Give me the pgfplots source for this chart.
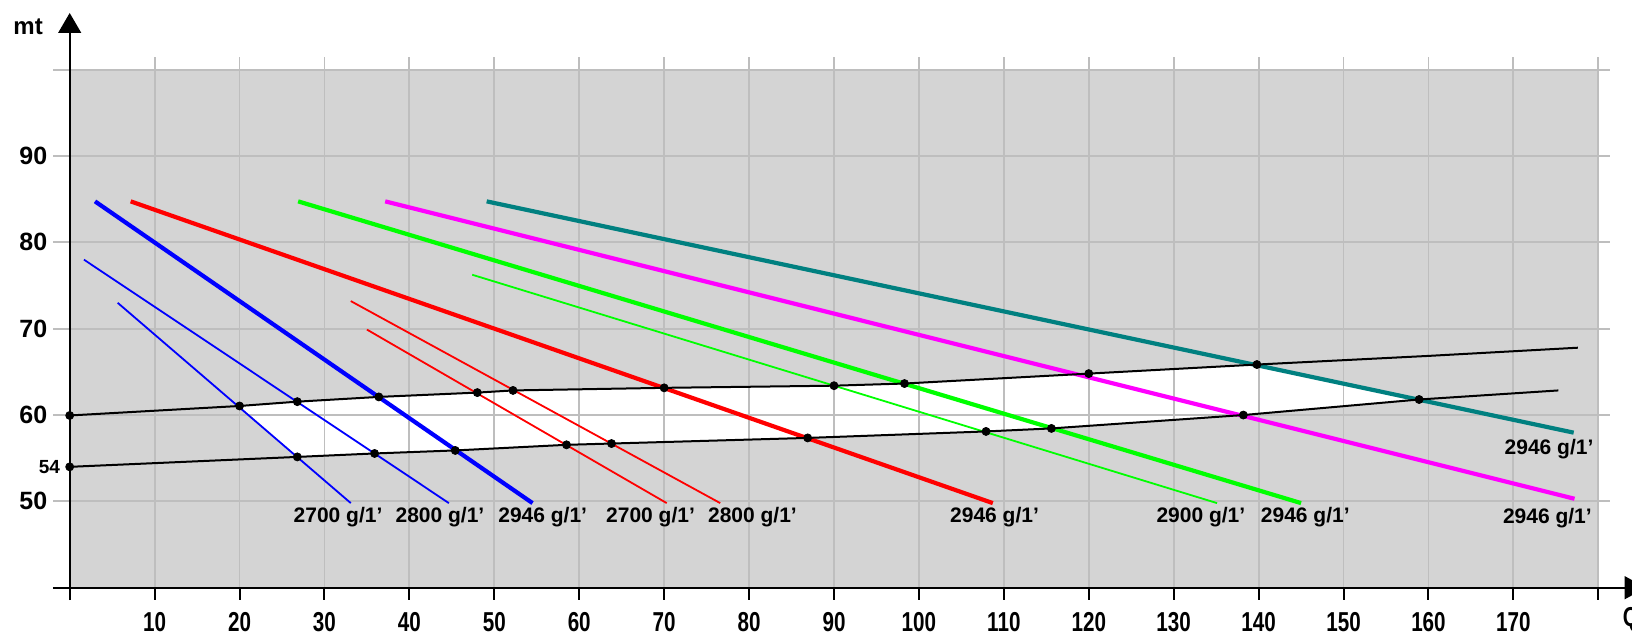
\documentclass[border=0pt]{standalone}
\usepackage{graphicx}
\usepackage{pgfplots}
\pgfplotsset{compat=1.18}
\usepackage{fontspec}
\setmainfont{Liberation Sans}
\definecolor{bggray}{HTML}{D4D4D4}
\definecolor{gridgray}{HTML}{BEBEBE}
\definecolor{cblue}{HTML}{0000FF}
\definecolor{cred}{HTML}{FF0000}
\definecolor{cgreen}{HTML}{00FF00}
\definecolor{cmag}{HTML}{FF00FF}
\definecolor{cteal}{HTML}{008080}
\newcommand{\lbl}[1]{#1 g/1'}
\tikzset{clabel/.style={font=\fontsize{10.5}{10.5}\selectfont\bfseries, inner sep=0pt}}
\begin{document}
\begin{tikzpicture}
\path[use as bounding box] (0,0) rectangle (816pt,319pt);
\begin{axis}[
  at={(34.85pt,25.15pt)}, anchor=south west,
  scale only axis, width=764.3pt, height=259pt,
  xmin=0, xmax=180, ymin=40, ymax=100,
  clip=false,
  axis line style={draw=none},
  tick style={draw=none},
  major tick length=0pt,
  xtick={10,20,...,170},
  ytick={50,60,70,80,90},
  /pgf/number format/assume math mode=true,
  xticklabel style={anchor=center, inner sep=0pt, yshift=-17pt, font=\fontsize{12}{12}\selectfont\bfseries},
  xticklabel={\scalebox{0.86}[1.14]{\pgfmathprintnumber{\tick}}},
  yticklabel style={anchor=east, inner sep=0pt, xshift=-11pt, font=\fontsize{12.5}{12.5}\selectfont\bfseries},
  axis background/.style={fill=bggray},
]
% white operating region
\addplot[fill=white, draw=none] coordinates {
 (20.0,61.05) (26.8,61.55) (36.4,62.1) (48.0,62.6) (52.2,62.85) (70.0,63.15)
 (90.0,63.4) (98.3,63.65) (120.0,64.8) (139.8,65.85) (158.9,61.8) (138.2,60.0)
 (115.6,58.45) (107.9,58.1) (86.9,57.35) (63.8,56.7) (58.5,56.55) (45.4,55.9)
 (35.9,55.55) (26.8,55.15)} -- cycle;
% grid
\pgfplotsinvokeforeach{10,20,...,180}{
  \draw[gridgray, line width=0.9pt] (axis cs:#1,40) -- (axis cs:#1,101.5);
}
\pgfplotsinvokeforeach{50,60,...,100}{
  \draw[gridgray, line width=0.9pt] (axis cs:-1.95,#1) -- (axis cs:181.4,#1);
}
% axes
\draw[black, line width=1.1pt] (axis cs:-1.97,40) -- (axis cs:184,40);
\fill[black] (axis cs:183.1,41.35) -- (axis cs:185.6,40) -- (axis cs:183.1,38.65) -- cycle;
\draw[black, line width=1.1pt] (axis cs:0,38.57) -- (axis cs:0,104.5);
\fill[black] (axis cs:-1.37,104.26) -- (axis cs:0,106.57) -- (axis cs:1.37,104.26) -- cycle;
\pgfplotsinvokeforeach{10,20,...,180}{
  \draw[black, line width=1pt] (axis cs:#1,40) -- (axis cs:#1,38.6);
}
% pump curves
\addplot[cblue, line width=0.9pt] coordinates {(5.65,73.0) (33.1,49.8)};
\addplot[cblue, line width=0.9pt] coordinates {(1.68,78.0) (44.65,49.8)};
\addplot[cblue, line width=2.1pt] coordinates {(2.98,84.75) (54.5,49.8)};
\addplot[cred, line width=0.9pt] coordinates {(35.0,69.9) (70.3,49.8)};
\addplot[cred, line width=0.9pt] coordinates {(33.1,73.2) (76.6,49.8)};
\addplot[cred, line width=2.1pt] coordinates {(7.18,84.75) (108.7,49.8)};
\addplot[cgreen, line width=0.9pt] coordinates {(47.4,76.25) (135.1,49.8)};
\addplot[cgreen, line width=2.1pt] coordinates {(26.9,84.75) (145.0,49.8)};
\addplot[cmag, line width=2.1pt] coordinates {(37.15,84.75) (177.2,50.3)};
\addplot[cteal, line width=2.1pt] coordinates {(49.1,84.75) (177.1,57.96)};
% system curves
\addplot[black, line width=1pt] coordinates {
 (0,59.95) (20.0,61.05) (26.8,61.55) (36.4,62.1) (48.0,62.6) (52.2,62.85) (70.0,63.15)
 (90.0,63.4) (98.3,63.65) (120.0,64.8) (139.8,65.85) (160,66.85) (177.6,67.8)};
\addplot[black, line width=1pt] coordinates {
 (0,54.0) (26.8,55.15) (35.9,55.55) (45.4,55.9) (58.5,56.55) (63.8,56.7) (86.9,57.35)
 (107.9,58.1) (115.6,58.45) (138.2,60.0) (158.9,61.8) (175.3,62.85)};
% intersection points
\addplot[only marks, mark=*, mark size=2pt, black] coordinates {
 (0,59.95) (20.0,61.05) (26.8,61.55) (36.4,62.1) (48.0,62.6) (52.2,62.85) (70.0,63.15)
 (90.0,63.4) (98.3,63.65) (120.0,64.8) (139.8,65.85)
 (0,54.0) (26.8,55.15) (35.9,55.55) (45.4,55.9) (58.5,56.55) (63.8,56.7) (86.9,57.35)
 (107.9,58.1) (115.6,58.45) (138.2,60.0) (158.9,61.8)};
% labels
\node[clabel] at (axis cs:31.6,48.2) {\lbl{2700}};
\node[clabel] at (axis cs:43.6,48.2) {\lbl{2800}};
\node[clabel] at (axis cs:55.7,48.2) {\lbl{2946}};
\node[clabel] at (axis cs:68.4,48.2) {\lbl{2700}};
\node[clabel] at (axis cs:80.4,48.2) {\lbl{2800}};
\node[clabel] at (axis cs:108.9,48.2) {\lbl{2946}};
\node[clabel] at (axis cs:133.2,48.2) {\lbl{2900}};
\node[clabel] at (axis cs:145.5,48.2) {\lbl{2946}};
\node[clabel] at (axis cs:174.0,48.1) {\lbl{2946}};
\node[clabel] at (axis cs:174.2,56.1) {\lbl{2946}};
\node[anchor=east, inner sep=0pt, font=\fontsize{9.5}{9.5}\selectfont\bfseries] at (axis cs:-1.1,54) {54};
\node[inner sep=0pt, font=\fontsize{12}{12}\selectfont\bfseries] at (axis cs:-4.9,104.95) {mt};
\node[anchor=west, inner sep=0pt, font=\fontsize{12}{12}\selectfont\bfseries] at (axis cs:182.85,36.3) {\scalebox{0.86}[1.14]{Q}};
\end{axis}
\end{tikzpicture}
\end{document}
